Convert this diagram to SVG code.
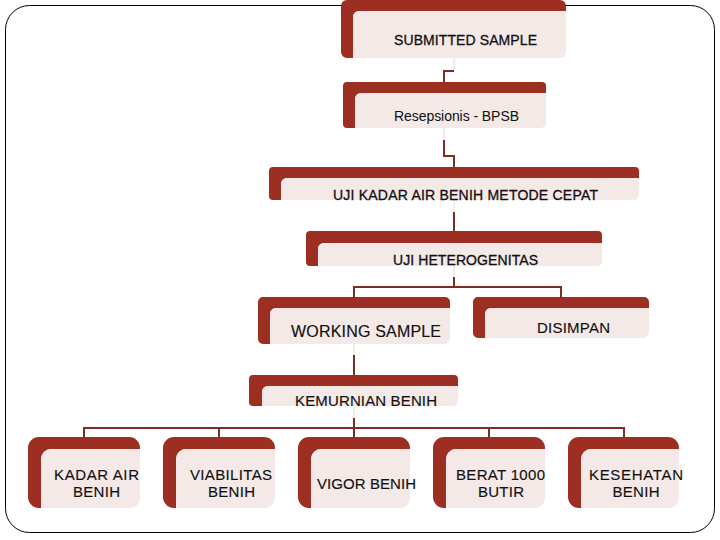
<svg xmlns="http://www.w3.org/2000/svg" width="720" height="540" viewBox="0 0 720 540">
<style>
.o{fill:#9c2f21}
.i{fill:#f4e9e7}
.f{fill:none;stroke:#f1e6e4;stroke-width:1.5}
.c{fill:none;stroke:#7e2c24;stroke-width:2}
text{font-family:"Liberation Sans",Arial,sans-serif;fill:#111;text-anchor:middle}
.b{stroke:#111;stroke-width:.3}
.m{stroke:#111;stroke-width:.15}
</style>
<rect x="5.500" y="5.500" width="709" height="527" rx="24" fill="#fff" stroke="#000" stroke-width="1"/>
<g id="connectors">
<path class="f" d="M454 58V70M444 128V140M454 200V212M454 266V277M354 344V355M354 406V418"/>
<path class="c" d="M454 71H444V82M444 140V156H454V167M454 212V231M454 277V287M354 297V287H561V297M354 355V375M354 418V437M84 437V428H624V437M219 428V437M489 428V437"/>
</g>
<g id="n1"><path class="o" d="M347 0H560a6 6 0 0 1 6 6V11H359a6 6 0 0 0-6 6V58H347a6 6 0 0 1-6-6V6a6 6 0 0 1 6-6Z"/><path class="i" d="M353 58V17a6 6 0 0 1 6-6H566V52a6 6 0 0 1-6 6Z"/><text x="465.500" y="45" font-size="14" textLength="143" class="b">SUBMITTED SAMPLE</text></g>
<g id="n2"><path class="o" d="M347 82H542a4 4 0 0 1 4 4V93H361a6 6 0 0 0-6 6V128H347a4 4 0 0 1-4-4V86a4 4 0 0 1 4-4Z"/><path class="i" d="M355 128V99a6 6 0 0 1 6-6H546V123a5 5 0 0 1-5 5Z"/><text x="456.500" y="121" font-size="14" textLength="125">Resepsionis - BPSB</text></g>
<g id="n3"><path class="o" d="M273 167H635a4 4 0 0 1 4 4V178H287a6 6 0 0 0-6 6V200H273a4 4 0 0 1-4-4V171a4 4 0 0 1 4-4Z"/><path class="i" d="M281 200V184a6 6 0 0 1 6-6H639V195a5 5 0 0 1-5 5Z"/><text x="465.500" y="200" font-size="14" textLength="265" class="b">UJI KADAR AIR BENIH METODE CEPAT</text></g>
<g id="n4"><path class="o" d="M310 231H598a4 4 0 0 1 4 4V243H324a6 6 0 0 0-6 6V266H310a4 4 0 0 1-4-4V235a4 4 0 0 1 4-4Z"/><path class="i" d="M318 266V249a6 6 0 0 1 6-6H602V261a5 5 0 0 1-5 5Z"/><text x="465.500" y="265" font-size="14" textLength="145" class="b">UJI HETEROGENITAS</text></g>
<g id="n5"><path class="o" d="M263 297H445a5 5 0 0 1 5 5V308H276a6 6 0 0 0-6 6V344H263a5 5 0 0 1-5-5V302a5 5 0 0 1 5-5Z"/><path class="i" d="M270 344V314a6 6 0 0 1 6-6H450V338a6 6 0 0 1-6 6Z"/><text x="366" y="337" font-size="16" textLength="150" class="m">WORKING SAMPLE</text></g>
<g id="n6"><path class="o" d="M478 297H644a5 5 0 0 1 5 5V308H491a6 6 0 0 0-6 6V338H478a5 5 0 0 1-5-5V302a5 5 0 0 1 5-5Z"/><path class="i" d="M485 338V314a6 6 0 0 1 6-6H649V332a6 6 0 0 1-6 6Z"/><text x="573.500" y="333" font-size="15" textLength="73" class="m">DISIMPAN</text></g>
<g id="n7"><path class="o" d="M253 375H454a4 4 0 0 1 4 4V386H268a6 6 0 0 0-6 6V406H253a4 4 0 0 1-4-4V379a4 4 0 0 1 4-4Z"/><path class="i" d="M262 406V392a6 6 0 0 1 6-6H458V401a5 5 0 0 1-5 5Z"/><text x="366" y="406" font-size="15" textLength="142" class="m">KEMURNIAN BENIH</text></g>
<g id="n8"><path class="o" d="M39 437H129a11 11 0 0 1 11 11V449H51a10 10 0 0 0-10 10V508H39a11 11 0 0 1-11-11V448a11 11 0 0 1 11-11Z"/><path class="i" d="M41 508V459a10 10 0 0 1 10-10H140V498a10 10 0 0 1-10 10Z"/><text x="96.500" y="480" font-size="15" textLength="85" class="m">KADAR AIR</text><text x="96.500" y="497" font-size="15" textLength="47" class="m">BENIH</text></g>
<g id="n9"><path class="o" d="M174 437H264a11 11 0 0 1 11 11V449H186a10 10 0 0 0-10 10V508H174a11 11 0 0 1-11-11V448a11 11 0 0 1 11-11Z"/><path class="i" d="M176 508V459a10 10 0 0 1 10-10H275V498a10 10 0 0 1-10 10Z"/><text x="231" y="480" font-size="15" textLength="82" class="m">VIABILITAS</text><text x="231.500" y="497" font-size="15" textLength="47" class="m">BENIH</text></g>
<g id="n10"><path class="o" d="M309 437H399a11 11 0 0 1 11 11V449H321a10 10 0 0 0-10 10V508H309a11 11 0 0 1-11-11V448a11 11 0 0 1 11-11Z"/><path class="i" d="M311 508V459a10 10 0 0 1 10-10H410V498a10 10 0 0 1-10 10Z"/><text x="366.500" y="489" font-size="15" textLength="99" class="m">VIGOR BENIH</text></g>
<g id="n11"><path class="o" d="M444 437H534a11 11 0 0 1 11 11V449H456a10 10 0 0 0-10 10V508H444a11 11 0 0 1-11-11V448a11 11 0 0 1 11-11Z"/><path class="i" d="M446 508V459a10 10 0 0 1 10-10H545V498a10 10 0 0 1-10 10Z"/><text x="500.500" y="480" font-size="15" textLength="89" class="m">BERAT 1000</text><text x="501" y="497" font-size="15" textLength="46" class="m">BUTIR</text></g>
<g id="n12"><path class="o" d="M579 437H668a11 11 0 0 1 11 11V449H591a10 10 0 0 0-10 10V508H579a11 11 0 0 1-11-11V448a11 11 0 0 1 11-11Z"/><path class="i" d="M581 508V459a10 10 0 0 1 10-10H679V498a10 10 0 0 1-10 10Z"/><text x="636" y="480" font-size="15" textLength="94" class="m">KESEHATAN</text><text x="636" y="497" font-size="15" textLength="47" class="m">BENIH</text></g>
</svg>
